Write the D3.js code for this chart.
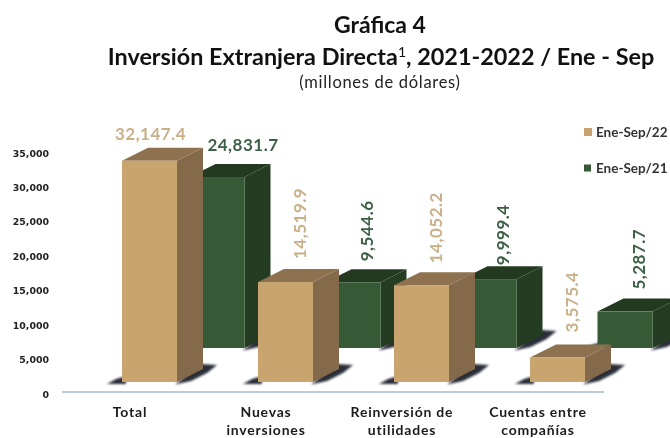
<!DOCTYPE html>
<html><head><meta charset="utf-8">
<script src="https://cdn.jsdelivr.net/npm/d3@7"></script>
<style>html,body{margin:0;padding:0;background:#fff}svg{display:block;filter:blur(0.45px)}</style>
</head><body><svg id="c" width="670" height="438"></svg>
<script>
const categories = ["Total","Nuevas inversiones","Reinversión de utilidades","Cuentas entre compañías"];
const categoryLines = [["Total"],["Nuevas","inversiones"],["Reinversión de","utilidades"],["Cuentas entre","compañías"]];
const seriesNames = ["Ene-Sep/22","Ene-Sep/21"];
const values22 = [32147.4,14519.9,14052.2,3575.4];
const values21 = [24831.7,9544.6,9999.4,5287.7];
const yTicks = [0,5000,10000,15000,20000,25000,30000,35000];
const colors = {
  "Ene-Sep/22":{front:"#C8A46E",side:"#84694A",top:"#8E7250",text:"#C9B088"},
  "Ene-Sep/21":{front:"#365A35",side:"#243C22",top:"#233A20",text:"#3C6046"}
};
const depthX=26, depthY=13;
const svg=d3.select("#c");
const x0=d3.scaleBand().domain(categories).range([61,605]);
const x1=d3.scaleBand().domain(seriesNames).range([61,183.5]).paddingInner(0.185);
const y=d3.scaleLinear().domain([0,35000]).range([394,153]);
const bw=x1.bandwidth();
const baseLift={"Ene-Sep/22":12,"Ene-Sep/21":46};
const fmt=d3.format(",.1f");
const defs=svg.append("defs");
defs.append("filter").attr("id","sh").attr("x","-30%").attr("y","-100%").attr("width","160%").attr("height","300%")
  .append("feGaussianBlur").attr("stdDeviation","1.1");

// title
const t=svg.append("g").attr("font-family","Lato").attr("fill","#111").attr("text-anchor","middle");
t.append("text").attr("x",380).attr("y",33).attr("font-size",23).attr("font-weight",700).text("Gráfica 4");
const t2=t.append("text").attr("x",381).attr("y",65).attr("font-size",23.4).attr("font-weight",700);
t2.append("tspan").text("Inversión Extranjera Directa");
t2.append("tspan").attr("dy",-8).attr("font-size",14).attr("font-weight",400).text("1");
t2.append("tspan").attr("dy",8).text(", 2021-2022 / Ene - Sep");
t.append("text").attr("x",380).attr("y",88).attr("font-size",16.5).attr("fill","#222").attr("letter-spacing",.7).text("(millones de dólares)");

// y axis
const ax=svg.append("g").attr("transform","translate(49,0)")
  .call(d3.axisLeft(y).tickValues(yTicks).tickSize(0).tickPadding(0).tickFormat(d3.format(",")));
ax.select(".domain").remove();
ax.selectAll("text").attr("font-family","DejaVu Sans").attr("font-size",9.4).attr("font-weight",700).attr("fill","#222");

// baseline
svg.append("line").attr("x1",x0.range()[0]+1).attr("x2",x0.range()[1]-1).attr("y1",y(0)-2).attr("y2",y(0)-2)
  .attr("stroke","#A9BBCB").attr("stroke-width",1.4);

function drawSeries(name,vals){
  const c=colors[name], lift=baseLift[name];
  const gs=svg.append("g").selectAll("g").data(categories).join("g");
  gs.each(function(cat,i){
    const s=d3.select(this), v=vals[i];
    const L=x0(cat)+x1(name), R=L+bw, B=y(0)-lift, T=y(v)-lift;
    // shadows
    s.append("polygon").attr("filter","url(#sh)").attr("fill","#2a2e38")
      .attr("points",[[L-15,B+2],[L-6,B-3],[L+4,B-6],[L+4,B+2]].join(" "));
    s.append("polygon").attr("filter","url(#sh)").attr("fill","#2a2e38")
      .attr("points",[[R-2,B+2.5],[R+14,B-1],[R+30,B-9],[R+40,B-17],[R+24,B-18]].join(" "));
    // faces
    s.append("polygon").attr("fill",c.side).attr("points",[[R,T],[R+depthX,T-depthY],[R+depthX,B-depthY],[R,B]].join(" "));
    s.append("polygon").attr("fill",c.top).attr("points",[[L,T],[L+depthX,T-depthY],[R+depthX,T-depthY],[R,T]].join(" "));
    s.append("rect").attr("fill",c.front).attr("x",L).attr("y",T).attr("width",bw).attr("height",B-T);
  });
}
drawSeries("Ene-Sep/21",values21);
drawSeries("Ene-Sep/22",values22);

// value labels
const labelGap={"Ene-Sep/22":[0,10,9,12],"Ene-Sep/21":[0,8,1,9]};
const lab=svg.append("g").attr("font-family","Lato").attr("font-weight",700).attr("font-size",17).attr("letter-spacing",.5);
[["Ene-Sep/22",values22],["Ene-Sep/21",values21]].forEach(([name,vals])=>{
  vals.forEach((v,i)=>{
    const cat=categories[i], lift=baseLift[name];
    const cx=x0(cat)+x1(name)+bw/2+depthX/2, top=y(v)-lift-depthY;
    const gap=labelGap[name][i];
    const tx=lab.append("text").attr("fill",colors[name].text).text(fmt(v));
    if(i===0) tx.attr("x",cx+(name==="Ene-Sep/22"?-12:13)).attr("y",top+(name==="Ene-Sep/22"?-8:-13)).attr("text-anchor","middle");
    else tx.attr("transform",`translate(${cx+7},${top-gap}) rotate(-90)`);
  });
});

// category labels
const cl=svg.append("g").attr("font-family","Lato").attr("font-weight",700).attr("font-size",14).attr("fill","#1b1b1b").attr("text-anchor","middle").attr("letter-spacing",.8);
categories.forEach((cat,i)=>{
  categoryLines[i].forEach((ln,j)=>cl.append("text").attr("x",x0(cat)+x0.bandwidth()/2+1).attr("y",417+j*18).text(ln));
});

// legend
const lg=svg.append("g").attr("font-family","Lato").attr("font-weight",700).attr("font-size",13.5).attr("fill","#333");
seriesNames.forEach((n,i)=>{
  const yy=132+i*36, sz=i===0?8:7;
  lg.append("rect").attr("x",584).attr("y",yy-sz/2).attr("width",sz).attr("height",sz).attr("fill",colors[n].front);
  lg.append("text").attr("x",596).attr("y",yy+4.5).text(n);
});
</script></body></html>
